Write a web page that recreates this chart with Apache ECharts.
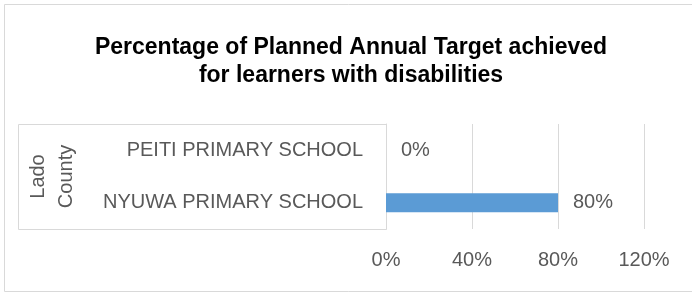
<!DOCTYPE html>
<html>
<head>
<meta charset="utf-8">
<script src="https://cdn.jsdelivr.net/npm/echarts@6/dist/echarts.min.js"></script>
<style>
html, body { margin: 0; padding: 0; background: #fff; }
#chart { width: 692px; height: 293px; }
</style>
</head>
<body>
<div id="chart"></div>
<script>
// data
const schools = ['NYUWA PRIMARY SCHOOL', 'PEITI PRIMARY SCHOOL'];
const achieved = [80, 0];
const groupName = 'Lado\nCounty';
const xMin = 0, xMax = 120, xStep = 40;

const font = '"Liberation Sans", Arial, sans-serif';
const grey = '#595959';
const lineGrey = '#d9d9d9';
const gridLeft = 386, gridTop = 124, gridW = 258, gridH = 105;

const chart = echarts.init(document.getElementById('chart'));
chart.setOption({
  animation: false,
  textStyle: { fontFamily: font },
  title: {
    text: 'Percentage of Planned Annual Target achieved\nfor learners with disabilities',
    left: 351,
    textAlign: 'center',
    top: 34,
    padding: 0,
    textStyle: { fontFamily: font, fontSize: 23, fontWeight: 'bold', color: '#000', lineHeight: 28 }
  },
  grid: { left: gridLeft, top: gridTop, width: gridW, height: gridH, outerBoundsMode: 'none' },
  xAxis: {
    type: 'value',
    min: xMin, max: xMax, interval: xStep,
    axisLine: { show: false },
    axisTick: { show: false },
    splitLine: { lineStyle: { color: lineGrey } },
    axisLabel: { formatter: '{value}%', fontSize: 20, color: grey, margin: 21 }
  },
  yAxis: {
    type: 'category',
    data: schools,
    axisLine: { show: true, lineStyle: { color: lineGrey } },
    axisTick: { show: false },
    axisLabel: { fontSize: 20, color: grey, margin: 23 },
    name: groupName,
    nameLocation: 'middle',
    nameRotate: 90,
    nameGap: 306,
    nameTextStyle: { fontSize: 20, color: grey, lineHeight: 28 }
  },
  series: [{
    type: 'bar',
    data: achieved,
    barWidth: 19,
    itemStyle: { color: '#5b9bd5' },
    label: { show: true, position: 'right', distance: 15, formatter: '{c}%', fontSize: 20, color: grey }
  }],
  graphic: [
    { type: 'rect', silent: true, z: -1,
      shape: { x: 4.5, y: 4.5, width: 720, height: 287 },
      style: { fill: 'none', stroke: lineGrey, lineWidth: 1 } },
    { type: 'rect', silent: true,
      shape: { x: 18.5, y: gridTop + 0.5, width: gridLeft - 18, height: gridH },
      style: { fill: 'none', stroke: lineGrey, lineWidth: 1 } }
  ]
});
</script>
</body>
</html>
